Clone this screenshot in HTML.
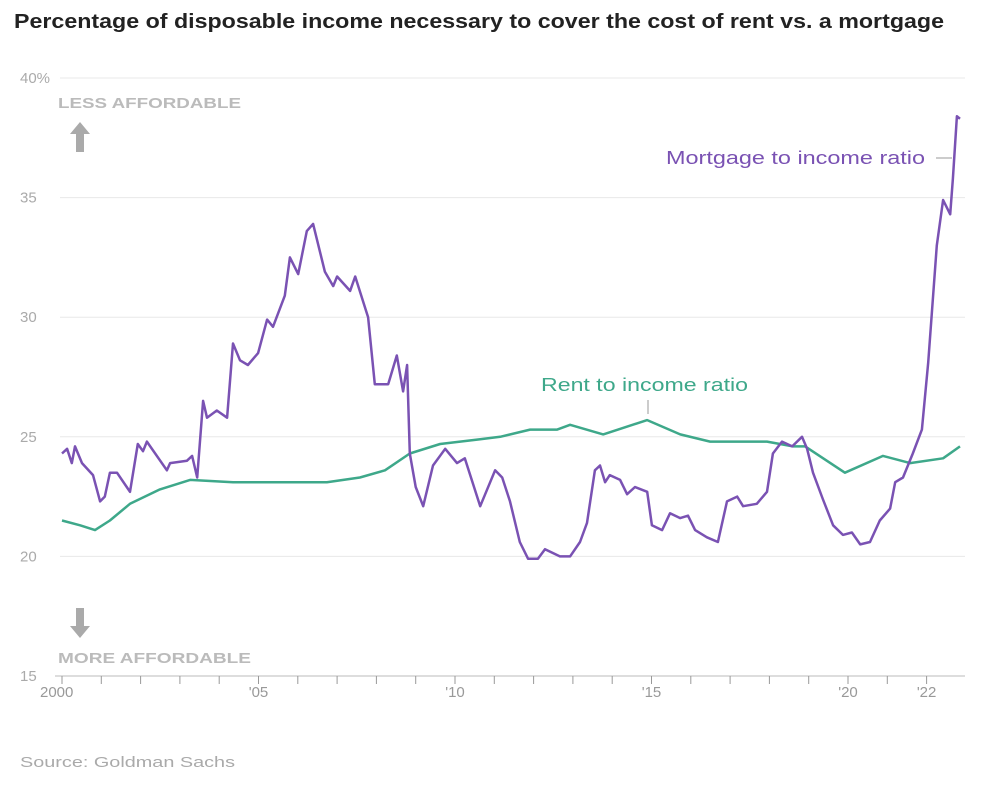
<!DOCTYPE html>
<html><head><meta charset="utf-8">
<style>
body{margin:0;background:#fff;width:1000px;height:790px;overflow:hidden;font-family:"Liberation Sans",sans-serif;}
svg text{font-family:"Liberation Sans",sans-serif;}
</style></head>
<body>
<svg id="chart" width="1000" height="790" viewBox="0 0 1000 790" xmlns="http://www.w3.org/2000/svg">
<text x="14" y="28" font-size="20" fill="#222" font-weight="bold" textLength="930" lengthAdjust="spacingAndGlyphs">Percentage of disposable income necessary to cover the cost of rent vs. a mortgage</text>
<g id="grid"></g>
<g id="axes"></g>
<g>
<text x="58" y="108" font-size="15" font-weight="bold" fill="#bbb" textLength="183" lengthAdjust="spacingAndGlyphs">LESS AFFORDABLE</text>
<polygon points="80,122 70,134 76,134 76,152 84,152 84,134 90,134" fill="#aaa"/>
</g>
<g>
<polygon points="80,638 70,626 76,626 76,608 84,608 84,626 90,626" fill="#aaa"/>
<text x="58" y="663" font-size="15" font-weight="bold" fill="#bbb" textLength="193" lengthAdjust="spacingAndGlyphs">MORE AFFORDABLE</text>
</g>
<g id="series"></g>
<text x="666" y="164" font-size="18" fill="#7a52b3" textLength="259" lengthAdjust="spacingAndGlyphs">Mortgage to income ratio</text>
<line x1="936" y1="158" x2="952" y2="158" stroke="#999" stroke-width="1"/>
<text x="541" y="391" font-size="18" fill="#3ea88a" textLength="207" lengthAdjust="spacingAndGlyphs">Rent to income ratio</text>
<line x1="648" y1="400" x2="648" y2="414" stroke="#999" stroke-width="1"/>
<text x="20" y="767" font-size="15" fill="#aaa" textLength="215" lengthAdjust="spacingAndGlyphs">Source: Goldman Sachs</text>
</svg>
<script>
const yTicks = [15, 20, 25, 30, 35, 40];
const yTickLabels = ["15", "20", "25", "30", "35", "40%"];
const xTickYears = [2000, 2005, 2010, 2015, 2020, 2022];
const xTickLabels = ["2000", "'05", "'10", "'15", "'20", "'22"];
const mortgageYears = [0,.13,.25,.33,.51,.79,.97,1.09,1.22,1.40,1.73,1.93,2.06,2.16,2.67,2.75,3.18,3.31,3.44,3.59,3.69,3.94,4.20,4.35,4.53,4.73,4.99,5.22,5.37,5.67,5.80,6.01,6.23,6.39,6.69,6.90,7.00,7.33,7.46,7.79,7.96,8.30,8.52,8.68,8.78,8.85,9.0,9.19,9.44,9.75,10.05,10.25,10.64,11.02,11.20,11.40,11.65,11.86,12.11,12.29,12.67,12.93,13.18,13.36,13.56,13.69,13.82,13.94,14.20,14.38,14.58,14.89,15.01,15.27,15.47,15.73,15.93,16.11,16.41,16.69,16.92,17.18,17.33,17.68,17.94,18.09,18.32,18.58,18.83,18.96,19.11,19.36,19.62,19.87,20.10,20.31,20.56,20.81,21.07,21.20,21.40,21.65,21.88,22.04,22.26,22.42,22.60,22.67,22.77,22.85];
const mortgageValues = [24.3,24.5,23.9,24.6,23.9,23.4,22.3,22.5,23.5,23.5,22.7,24.7,24.4,24.8,23.6,23.9,24.0,24.2,23.3,26.5,25.8,26.1,25.8,28.9,28.2,28.0,28.5,29.9,29.6,30.9,32.5,31.8,33.6,33.9,31.9,31.3,31.7,31.1,31.7,30.0,27.2,27.2,28.4,26.9,28.0,24.3,22.9,22.1,23.8,24.5,23.9,24.1,22.1,23.6,23.3,22.3,20.6,19.9,19.9,20.3,20.0,20.0,20.6,21.4,23.6,23.8,23.1,23.4,23.2,22.6,22.9,22.7,21.3,21.1,21.8,21.6,21.7,21.1,20.8,20.6,22.3,22.5,22.1,22.2,22.7,24.3,24.8,24.6,25.0,24.5,23.5,22.4,21.3,20.9,21.0,20.5,20.6,21.5,22.0,23.1,23.3,24.3,25.3,28.1,33.0,34.9,34.3,35.8,38.4,38.3];
const rentYears = [0,.46,.84,1.22,1.73,2.49,3.26,4.35,6.74,7.58,8.22,8.85,9.62,10.64,11.15,11.91,12.60,12.93,13.77,14.89,15.73,16.49,17.94,18.60,18.91,19.92,20.89,21.58,22.42,22.85];
const rentValues = [21.5,21.3,21.1,21.5,22.2,22.8,23.2,23.1,23.1,23.3,23.6,24.3,24.7,24.9,25.0,25.3,25.3,25.5,25.1,25.7,25.1,24.8,24.8,24.6,24.6,23.5,24.2,23.9,24.1,24.6];

const NS = "http://www.w3.org/2000/svg";
const xS = yr => 62 + (yr - 2000) * 39.3;
const xY = off => xS(2000 + off);
const yS = v => 676 - (v - 15) * 23.92;
function mk(tag, attrs, parent) { const e = document.createElementNS(NS, tag); for (const k in attrs) e.setAttribute(k, attrs[k]); parent.appendChild(e); return e; }

const grid = document.getElementById('grid');
yTicks.forEach((t, i) => {
  if (t > 15) {
    const g = mk('line', {x1: 60, x2: 965, y1: yS(t), y2: yS(t), stroke: '#e8e8e8', 'stroke-width': 1}, grid);
    
    
  }
  const lb = mk('text', {x: 20, y: yS(t) + 5, 'font-size': 15, fill: '#aaa'}, grid);
  lb.textContent = yTickLabels[i];
  
  
});
const axes = document.getElementById('axes');
const base = mk('line', {x1: 55, x2: 965, y1: yS(15), y2: yS(15), stroke: '#bbb', 'stroke-width': 1}, axes);


for (let yr = 2000; yr <= 2022; yr++) {
  const tk = mk('line', {x1: xS(yr), x2: xS(yr), y1: yS(15), y2: yS(15) + 8, stroke: '#999', 'stroke-width': 1}, axes);
  
  
}
xTickYears.forEach((yr, i) => {
  const lb = mk('text', {x: xS(yr), y: 697, 'font-size': 15, fill: '#999', 'text-anchor': i === 0 ? 'start' : 'middle'}, axes);
  if (i === 0) lb.setAttribute('x', xS(yr) - 22);
  lb.textContent = xTickLabels[i];
  
  
});

const series = document.getElementById('series');
const rentD = rentYears.map((y, i) => (i ? 'L' : 'M') + xY(y).toFixed(1) + ',' + yS(rentValues[i]).toFixed(1)).join(' ');
const rp = mk('path', {d: rentD, fill: 'none', stroke: '#3ea88a', 'stroke-width': 2.5, 'stroke-linejoin': 'round'}, series);


const mD = mortgageYears.map((y, i) => (i ? 'L' : 'M') + xY(y).toFixed(1) + ',' + yS(mortgageValues[i]).toFixed(1)).join(' ');
const mp = mk('path', {d: mD, fill: 'none', stroke: '#7a52b3', 'stroke-width': 2.5, 'stroke-linejoin': 'round'}, series);


</script>
</body></html>
